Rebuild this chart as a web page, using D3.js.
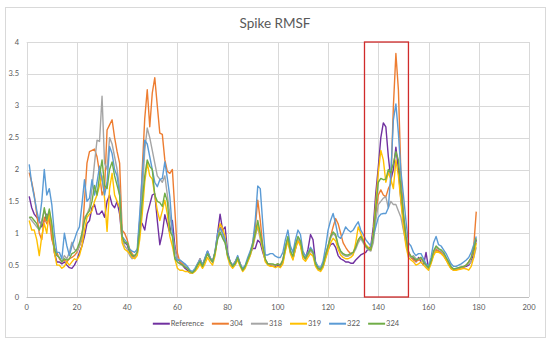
<!DOCTYPE html>
<html>
<head>
<meta charset="utf-8">
<script src="https://cdn.jsdelivr.net/npm/d3@7"></script>
<style>
  body { margin: 0; background: #fff; }
  svg { font-family: Lato, "Liberation Sans", sans-serif; }
</style>
</head>
<body>
<svg id="chart" width="550" height="345"></svg>
<script>
//Residue index shared by every series
var residues = d3.range(1, 180);

//RMSF values per residue
var reference = [
  1.58, 1.40, 1.30, 1.25, 1.20, 1.10, 1.20, 1.30, 1.20, 1.05,
  0.70, 0.55, 0.55, 0.52, 0.55, 0.50, 0.46, 0.45, 0.50, 0.58,
  0.70, 0.80, 0.95, 1.15, 1.20, 1.40, 1.45, 1.30, 1.30, 1.35,
  1.25, 1.50, 1.60, 1.45, 1.40, 1.50, 1.30, 0.90, 0.85, 0.82,
  0.70, 0.62, 0.65, 0.68, 1.20, 1.15, 1.05, 1.30, 1.45, 1.60,
  1.62, 1.20, 0.82, 1.00, 1.29, 1.15, 1.00, 1.20, 0.80, 0.60,
  0.55, 0.50, 0.45, 0.42, 0.38, 0.38, 0.42, 0.50, 0.60, 0.50,
  0.60, 0.72, 0.62, 0.55, 0.70, 1.00, 1.30, 1.05, 1.10, 0.70,
  0.55, 0.48, 0.55, 0.63, 0.52, 0.42, 0.48, 0.58, 0.70, 0.76,
  0.76, 0.89, 0.85, 0.70, 0.58, 0.52, 0.50, 0.50, 0.48, 0.50,
  0.48, 0.55, 0.75, 0.90, 0.70, 0.60, 0.75, 0.90, 0.82, 0.65,
  0.60, 0.75, 0.98, 0.90, 0.55, 0.45, 0.42, 0.48, 0.62, 0.75,
  0.82, 0.84, 0.78, 0.65, 0.60, 0.58, 0.55, 0.55, 0.53, 0.53,
  0.58, 0.62, 0.66, 0.68, 0.70, 0.76, 0.79, 1.10, 1.63, 2.04,
  2.50, 2.73, 2.67, 2.20, 1.84, 2.00, 2.35, 2.00, 1.52, 1.20,
  0.89, 0.70, 0.62, 0.60, 0.55, 0.62, 0.55, 0.50, 0.70, 0.45,
  0.55, 0.68, 0.74, 0.72, 0.70, 0.66, 0.60, 0.52, 0.45, 0.42,
  0.43, 0.45, 0.46, 0.47, 0.48, 0.50, 0.56, 0.68, 0.90
];
var mut304 = [
  1.95, 1.80, 1.60, 1.30, 1.00, 0.90, 1.25, 1.15, 1.25, 0.90,
  0.78, 0.70, 0.60, 0.55, 0.58, 0.55, 0.60, 0.62, 0.65, 0.70,
  0.80, 0.90, 1.50, 2.10, 2.28, 2.30, 2.32, 2.20, 1.95, 1.60,
  1.70, 2.62, 2.70, 2.78, 2.50, 2.28, 2.10, 1.05, 1.00, 0.90,
  0.75, 0.68, 0.62, 0.70, 1.10, 2.00, 2.80, 3.25, 2.67, 3.20,
  3.44, 3.00, 2.57, 2.55, 2.15, 1.97, 1.94, 2.00, 1.36, 0.69,
  0.55, 0.52, 0.48, 0.45, 0.40, 0.38, 0.42, 0.50, 0.55, 0.48,
  0.58, 0.68, 0.60, 0.55, 0.70, 0.95, 1.10, 1.00, 0.90, 0.65,
  0.55, 0.50, 0.55, 0.62, 0.52, 0.42, 0.48, 0.58, 0.68, 0.85,
  1.10, 1.52, 1.20, 0.80, 0.58, 0.52, 0.50, 0.50, 0.50, 0.52,
  0.50, 0.58, 0.78, 0.92, 0.72, 0.62, 0.80, 0.92, 0.85, 0.65,
  0.60, 0.66, 0.74, 0.70, 0.52, 0.45, 0.44, 0.52, 0.66, 0.80,
  0.95, 1.10, 1.23, 1.15, 1.00, 0.85, 0.78, 0.72, 0.68, 0.70,
  0.78, 0.88, 0.95, 0.88, 0.80, 0.76, 0.74, 0.90, 1.30, 1.60,
  1.68, 1.60, 1.57, 1.70, 1.78, 2.99, 3.82, 3.25, 1.94, 1.31,
  0.95, 0.72, 0.62, 0.58, 0.56, 0.58, 0.60, 0.55, 0.50, 0.46,
  0.55, 0.68, 0.75, 0.72, 0.70, 0.65, 0.58, 0.52, 0.45, 0.42,
  0.43, 0.45, 0.46, 0.47, 0.50, 0.55, 0.62, 0.80, 1.34
];
var mut318 = [
  1.25, 1.20, 1.15, 1.10, 1.05, 1.20, 1.35, 1.25, 1.30, 1.10,
  0.75, 0.65, 0.62, 0.55, 0.65, 0.60, 0.70, 0.86, 0.75, 0.72,
  0.80, 0.95, 1.25, 1.30, 1.40, 1.70, 2.10, 2.46, 2.44, 3.15,
  2.10, 2.00, 2.50, 2.40, 2.20, 2.00, 1.70, 0.90, 0.80, 0.75,
  0.65, 0.60, 0.62, 0.68, 1.00, 1.60, 2.30, 2.65, 2.50, 2.30,
  2.10, 1.90, 1.85, 1.80, 1.90, 1.60, 1.30, 1.00, 0.75, 0.60,
  0.58, 0.55, 0.50, 0.45, 0.40, 0.38, 0.42, 0.52, 0.60, 0.50,
  0.60, 0.70, 0.62, 0.55, 0.68, 0.92, 1.00, 0.95, 0.85, 0.65,
  0.55, 0.50, 0.52, 0.60, 0.50, 0.42, 0.48, 0.56, 0.65, 0.78,
  0.95, 1.10, 0.90, 0.75, 0.58, 0.52, 0.52, 0.50, 0.50, 0.52,
  0.50, 0.58, 0.78, 0.92, 0.72, 0.62, 0.80, 0.92, 0.85, 0.66,
  0.60, 0.66, 0.72, 0.68, 0.50, 0.44, 0.42, 0.50, 0.65, 0.78,
  0.92, 1.00, 0.95, 0.80, 0.70, 0.66, 0.64, 0.64, 0.66, 0.68,
  0.75, 0.85, 0.92, 0.85, 0.78, 0.74, 0.72, 0.85, 1.20, 1.45,
  1.50, 1.55, 1.57, 1.40, 1.50, 1.45, 1.45, 1.35, 1.25, 1.05,
  0.85, 0.68, 0.62, 0.65, 0.60, 0.60, 0.62, 0.56, 0.48, 0.44,
  0.55, 0.70, 0.78, 0.75, 0.72, 0.68, 0.62, 0.55, 0.48, 0.44,
  0.45, 0.46, 0.47, 0.48, 0.50, 0.52, 0.55, 0.62, 0.78
];
var mut319 = [
  1.20, 1.05, 1.05, 0.90, 0.65, 0.95, 1.15, 1.00, 1.35, 1.10,
  0.70, 0.50, 0.50, 0.45, 0.48, 0.55, 0.50, 0.55, 0.60, 0.58,
  0.65, 0.80, 1.05, 1.25, 1.30, 1.35, 1.50, 1.60, 1.75, 1.90,
  1.55, 1.03, 1.70, 1.94, 1.60, 1.50, 1.40, 0.85, 0.75, 0.72,
  0.68, 0.62, 0.60, 0.65, 0.90, 1.30, 1.80, 2.10, 1.90, 1.85,
  1.60, 1.36, 1.20, 1.35, 1.52, 1.30, 0.95, 0.80, 0.60, 0.45,
  0.42, 0.42, 0.40, 0.40, 0.38, 0.37, 0.40, 0.45, 0.52, 0.45,
  0.52, 0.62, 0.55, 0.50, 0.65, 0.95, 1.15, 1.08, 0.95, 0.62,
  0.50, 0.45, 0.50, 0.58, 0.48, 0.40, 0.45, 0.55, 0.65, 0.80,
  0.98, 1.13, 0.95, 0.75, 0.55, 0.50, 0.48, 0.48, 0.46, 0.48,
  0.46, 0.52, 0.72, 0.88, 0.68, 0.58, 0.75, 0.88, 0.80, 0.60,
  0.56, 0.62, 0.68, 0.64, 0.48, 0.42, 0.40, 0.46, 0.60, 0.72,
  0.85, 0.92, 0.88, 0.75, 0.66, 0.62, 0.60, 0.60, 0.62, 0.66,
  0.85, 1.10, 1.00, 0.90, 0.82, 0.78, 0.74, 1.00, 1.47, 1.95,
  2.30, 2.15, 1.80, 1.95, 1.85, 1.70, 2.15, 1.90, 1.50, 1.10,
  0.80, 0.62, 0.58, 0.55, 0.50, 0.52, 0.55, 0.50, 0.46, 0.42,
  0.52, 0.65, 0.72, 0.70, 0.68, 0.64, 0.58, 0.50, 0.44, 0.42,
  0.42, 0.43, 0.44, 0.45, 0.44, 0.42, 0.48, 0.62, 0.85
];
var mut322 = [
  2.08, 1.78, 1.57, 1.36, 1.18, 1.50, 2.00, 1.60, 1.70, 1.45,
  1.00, 0.70, 0.70, 0.60, 1.00, 0.80, 0.65, 0.80, 0.90, 1.02,
  1.10, 1.45, 1.84, 1.50, 1.55, 1.84, 1.60, 1.80, 2.05, 1.85,
  1.60, 1.80, 2.36, 2.25, 2.00, 1.90, 1.60, 0.95, 0.90, 0.85,
  0.75, 0.72, 0.70, 0.75, 1.30, 1.90, 2.46, 2.40, 2.20, 2.00,
  1.80, 1.73, 1.84, 1.86, 2.12, 1.86, 1.57, 1.05, 0.63, 0.58,
  0.58, 0.55, 0.52, 0.48, 0.42, 0.40, 0.45, 0.52, 0.58, 0.50,
  0.62, 0.72, 0.62, 0.55, 0.72, 1.00, 1.08, 1.00, 0.90, 0.68,
  0.55, 0.50, 0.55, 0.65, 0.52, 0.45, 0.50, 0.62, 0.72, 0.85,
  1.20, 1.74, 1.70, 1.15, 0.66, 0.66, 0.68, 0.68, 0.64, 0.62,
  0.62, 0.70, 0.90, 1.05, 0.80, 0.70, 0.90, 1.05, 0.98, 0.72,
  0.64, 0.70, 0.78, 0.72, 0.55, 0.48, 0.46, 0.56, 0.78, 1.05,
  1.20, 1.31, 1.15, 0.95, 0.92, 1.00, 1.10, 1.05, 1.02, 1.05,
  1.12, 1.18, 1.05, 0.98, 0.90, 0.85, 0.80, 0.95, 1.10, 1.25,
  1.30, 1.31, 1.31, 1.40, 1.94, 2.78, 3.03, 2.57, 1.97, 1.60,
  1.20, 0.85, 0.80, 0.70, 0.65, 0.68, 0.68, 0.60, 0.52, 0.48,
  0.62, 0.85, 0.95, 0.82, 0.80, 0.74, 0.68, 0.60, 0.52, 0.48,
  0.48, 0.50, 0.52, 0.55, 0.58, 0.62, 0.70, 0.82, 0.95
];
var mut324 = [
  1.25, 1.25, 1.20, 1.15, 1.05, 1.15, 1.40, 1.20, 1.38, 1.15,
  0.75, 0.65, 0.62, 0.55, 0.60, 0.58, 0.60, 0.68, 0.70, 0.75,
  0.85, 1.00, 1.20, 1.30, 1.35, 1.50, 1.75, 1.60, 1.90, 2.15,
  1.75, 1.70, 2.00, 2.12, 1.90, 1.75, 1.60, 0.95, 0.85, 0.85,
  0.72, 0.65, 0.65, 0.70, 1.05, 1.50, 1.90, 2.15, 2.05, 2.00,
  1.60, 1.50, 1.48, 1.42, 1.63, 1.50, 1.05, 0.95, 0.60, 0.55,
  0.52, 0.50, 0.47, 0.45, 0.40, 0.38, 0.42, 0.50, 0.56, 0.48,
  0.58, 0.68, 0.60, 0.55, 0.70, 0.90, 1.02, 0.92, 0.85, 0.65,
  0.55, 0.48, 0.52, 0.62, 0.50, 0.42, 0.48, 0.58, 0.68, 0.82,
  1.00, 1.20, 1.00, 0.80, 0.60, 0.52, 0.52, 0.52, 0.50, 0.52,
  0.50, 0.58, 0.78, 0.95, 0.72, 0.64, 0.82, 0.95, 0.88, 0.66,
  0.60, 0.68, 0.75, 0.70, 0.52, 0.45, 0.43, 0.50, 0.66, 0.80,
  0.95, 1.02, 0.98, 0.82, 0.72, 0.68, 0.66, 0.66, 0.68, 0.70,
  0.78, 0.90, 0.95, 0.88, 0.80, 0.76, 0.74, 0.95, 1.40, 1.80,
  1.86, 1.84, 1.85, 2.00, 1.95, 2.10, 2.28, 2.15, 1.70, 1.30,
  0.95, 0.70, 0.64, 0.62, 0.58, 0.60, 0.62, 0.55, 0.50, 0.46,
  0.56, 0.72, 0.80, 0.76, 0.74, 0.70, 0.62, 0.55, 0.47, 0.44,
  0.45, 0.46, 0.47, 0.48, 0.50, 0.55, 0.62, 0.75, 0.92
];

var seriesNames = ['Reference', '304', '318', '319', '322', '324'];
var seriesValues = [reference, mut304, mut318, mut319, mut322, mut324];
var seriesColors = ['#7030A0', '#ED7D31', '#A5A5A5', '#FFC000', '#5B9BD5', '#70AD47'];

var xTicks = d3.range(0, 201, 20);
var yTicks = [0, 0.5, 1, 1.5, 2, 2.5, 3, 3.5, 4];

//Highlighted residue window (red box)
var highlightRange = [134.5, 152];

drawChart();

function drawChart() {
  var svg = d3.select('#chart');

  var x = d3.scaleLinear().domain([0, 200]).range([26.7, 529]);
  var y = d3.scaleLinear().domain([0, 4]).range([297, 42]);

  //Chart area border
  svg.append('rect')
    .attr('x', 5.5).attr('y', 7.5)
    .attr('width', 540).attr('height', 330)
    .attr('fill', '#fff')
    .attr('stroke', '#D9D9D9')
    .attr('stroke-width', 1);

  //Title
  svg.append('text')
    .attr('x', 275).attr('y', 28)
    .attr('text-anchor', 'middle')
    .attr('font-size', '13.5px')
    .attr('fill', '#595959')
    .text('Spike RMSF');

  //Horizontal gridlines
  svg.append('g').selectAll('line')
    .data(yTicks)
    .enter().append('line')
    .attr('x1', x(0)).attr('x2', x(200))
    .attr('y1', function(d) { return Math.round(y(d)) + 0.5; })
    .attr('y2', function(d) { return Math.round(y(d)) + 0.5; })
    .attr('stroke', '#D9D9D9')
    .attr('stroke-width', 1);

  //Vertical gridlines
  svg.append('g').selectAll('line')
    .data(xTicks)
    .enter().append('line')
    .attr('x1', function(d) { return Math.round(x(d)) + 0.5; })
    .attr('x2', function(d) { return Math.round(x(d)) + 0.5; })
    .attr('y1', y(4)).attr('y2', y(0))
    .attr('stroke', '#D9D9D9')
    .attr('stroke-width', 1);

  //Bottom axis line
  svg.append('line')
    .attr('x1', x(0)).attr('x2', x(200))
    .attr('y1', Math.round(y(0)) + 0.5).attr('y2', Math.round(y(0)) + 0.5)
    .attr('stroke', '#BFBFBF');

  //Y tick labels
  svg.append('g').selectAll('text')
    .data(yTicks)
    .enter().append('text')
    .attr('x', 19)
    .attr('y', function(d) { return y(d) + 2.5; })
    .attr('text-anchor', 'end')
    .attr('font-size', '7.5px')
    .attr('fill', '#595959')
    .text(function(d) { return d; });

  //X tick labels
  svg.append('g').selectAll('text')
    .data(xTicks)
    .enter().append('text')
    .attr('x', function(d) { return x(d); })
    .attr('y', 310)
    .attr('text-anchor', 'middle')
    .attr('font-size', '7.5px')
    .attr('fill', '#595959')
    .text(function(d) { return d; });

  //Series lines
  var line = d3.line()
    .x(function(d) { return x(d[0]); })
    .y(function(d) { return y(d[1]); });

  seriesValues.forEach(function(values, i) {
    svg.append('path')
      .datum(d3.zip(residues, values))
      .attr('fill', 'none')
      .attr('stroke', seriesColors[i])
      .attr('stroke-width', 1.4)
      .attr('stroke-linejoin', 'round')
      .attr('d', line);
  });

  //Red highlight box
  svg.append('rect')
    .attr('x', x(highlightRange[0]))
    .attr('y', y(4))
    .attr('width', x(highlightRange[1]) - x(highlightRange[0]))
    .attr('height', y(0) - y(4))
    .attr('fill', 'none')
    .attr('stroke', '#D02B2B')
    .attr('stroke-width', 1.3);

  drawLegend(svg);
}

//Legend centred under the plot
function drawLegend(svg) {
  var legend = svg.append('g');
  var cursor = 0;
  seriesNames.forEach(function(name, i) {
    var item = legend.append('g').attr('transform', 'translate(' + cursor + ',0)');
    item.append('line')
      .attr('x1', 0).attr('x2', 17)
      .attr('y1', 0).attr('y2', 0)
      .attr('stroke', seriesColors[i])
      .attr('stroke-width', 2);
    var label = item.append('text')
      .attr('x', 18).attr('y', 2.6)
      .attr('font-size', '7.5px')
      .attr('fill', '#595959')
      .text(name);
    cursor += 18 + label.node().getComputedTextLength() + 8;
  });
  var total = cursor - 8;
  legend.attr('transform', 'translate(' + (276 - total / 2) + ',323.7)');
}
</script>
</body>
</html>
